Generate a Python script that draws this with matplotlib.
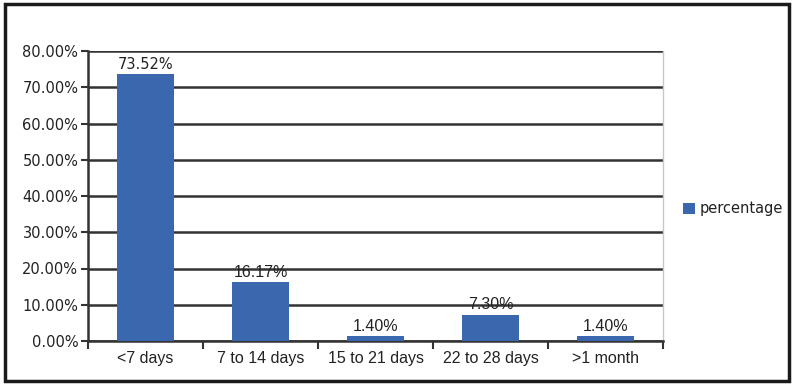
import matplotlib.pyplot as plt
from matplotlib.patches import Rectangle
from matplotlib.ticker import FuncFormatter, FixedLocator
import numpy as np

categories = ["<7 days", "7 to 14 days", "15 to 21 days", "22 to 28 days", ">1 month"]
percentage = [73.52, 16.17, 1.40, 7.30, 1.40]
value_labels = ["73.52%", "16.17%", "1.40%", "7.30%", "1.40%"]

bar_color = "#3A67AE"
dark = "#333333"
narrow = "Liberation Sans"

fig = plt.figure(figsize=(7.95, 3.85), dpi=100)
ax = fig.add_axes([88 / 795, 1 - 341 / 385, (663 - 88) / 795, (341 - 51) / 385])

x = np.arange(len(categories))
bars = ax.bar(x, percentage, width=0.5, color=bar_color, label="percentage", zorder=3)

for i, (b, lab) in enumerate(zip(bars, value_labels)):
    if i == 0:
        ax.text(b.get_x() + b.get_width() / 2, b.get_height() + 0.6, lab,
                ha="center", va="bottom", fontsize=10.5, family="DejaVu Sans",
                color="#222222", zorder=4)
    else:
        ax.text(b.get_x() + b.get_width() / 2, b.get_height() + 0.6, lab,
                ha="center", va="bottom", fontsize=11.5, family=narrow,
                color="#222222", zorder=4)

ax.set_xlim(-0.5, len(categories) - 0.5)
ax.set_ylim(0, 80)
ax.set_yticks(np.arange(0, 81, 10))
ax.yaxis.set_major_formatter(FuncFormatter(lambda v, p: f"{v:.2f}%"))
ax.yaxis.grid(True, color=dark, linewidth=1.8, zorder=0)

ax.set_xticks(x)
ax.set_xticklabels(categories, family=narrow, fontsize=11.5)
ax.xaxis.set_minor_locator(FixedLocator(np.arange(-0.5, len(categories), 1.0)))
ax.tick_params(axis="x", which="major", length=0, pad=7, labelcolor="#222222")
ax.tick_params(axis="x", which="minor", length=6, width=1.5, color=dark)
ax.tick_params(axis="y", length=5, width=1.5, color=dark, labelsize=10.5, labelcolor="#222222", pad=2)
for t in ax.get_yticklabels():
    t.set_family("DejaVu Sans")

for s in ["left", "bottom"]:
    ax.spines[s].set_color(dark)
    ax.spines[s].set_linewidth(1.8)
ax.spines["top"].set_visible(False)
ax.spines["right"].set_color("#c8c8c8")
ax.spines["right"].set_linewidth(1.0)

fig.legend(handles=[bars], labels=["percentage"], loc="center left",
           bbox_to_anchor=(670 / 795, 1 - 209 / 385), frameon=False,
           prop={"family": "DejaVu Sans", "size": 10.5},
           handlelength=0.8, handleheight=0.8, handletextpad=0.3,
           labelcolor="#222222")

fig.patches.append(Rectangle((5 / 795, 4 / 385), 784 / 795, 377 / 385,
                             transform=fig.transFigure, fill=False,
                             edgecolor="#1a1a1a", linewidth=2.5))

fig.savefig("out.png", dpi=100)
